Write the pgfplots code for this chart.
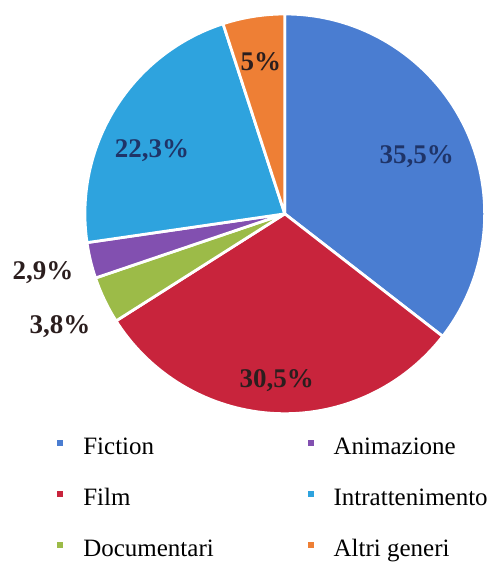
\documentclass[border=0pt]{standalone}
\usepackage{pgfplots}
\pgfplotsset{compat=1.18}
\usepackage{pgfplotstable}
\usepackage{fontspec}
\setmainfont{Liberation Serif}

\definecolor{cFic}{HTML}{4A7DD1}
\definecolor{cFilm}{HTML}{C8243C}
\definecolor{cDoc}{HTML}{9CBB48}
\definecolor{cAni}{HTML}{8250B0}
\definecolor{cInt}{HTML}{2EA3DE}
\definecolor{cAlt}{HTML}{EE7F35}
\definecolor{labNavy}{HTML}{1F3468}
\definecolor{labDark}{HTML}{2B1E1E}

% share of each genre, clockwise from 12 o'clock
\pgfplotstableread{
name value
Fiction 35.5
Film 30.5
Documentari 3.8
Animazione 2.9
Intrattenimento 22.3
Altri 5.0
}\piedata

\begin{document}
\begin{tikzpicture}
% start/end angle of each slice
\def\cum{0}
\pgfplotsforeachungrouped \i in {0,...,5}{%
  \pgfplotstablegetelem{\i}{value}\of\piedata
  \pgfmathsetmacro\s{90-3.6*\cum}%
  \pgfmathsetmacro\cum{\cum+\pgfplotsretval}%
  \pgfmathsetmacro\e{90-3.6*\cum}%
  \expandafter\xdef\csname sA\i\endcsname{\s}%
  \expandafter\xdef\csname eA\i\endcsname{\e}%
}
\newcommand\slice[2]{%
  \fill[#2, draw=white, line width=1.4pt, line join=round]
    (axis cs:285,348) -- +(\csname sA#1\endcsname:100pt)
    arc[start angle=\csname sA#1\endcsname, end angle=\csname eA#1\endcsname, radius=100pt] -- cycle;}
\begin{axis}[
  x=0.5pt, y=0.5pt,
  xmin=0, xmax=491, ymin=0, ymax=562,
  hide axis, clip=false,
  legend columns=3, transpose legend,
  legend image code/.code={\fill[#1] (0pt,1.2pt) rectangle (3pt,4.2pt);},
  legend style={draw=none, fill=none, inner sep=0pt,
    at={(0.1161,0.2242)}, anchor=north west,
    font=\fontsize{12.5}{14}\selectfont,
    row sep=13.5pt,
    nodes={inner sep=0pt, text height=9pt, text depth=3pt},
    /tikz/every odd column/.append style={column sep=10pt},
    /tikz/every even column/.append style={column sep=47pt}},
  legend cell align=left,
]
\path (axis cs:0,0) rectangle (axis cs:491,562);
\slice{0}{cFic}
\slice{1}{cFilm}
\slice{2}{cDoc}
\slice{3}{cAni}
\slice{4}{cInt}
\slice{5}{cAlt}

\begin{scope}[font=\fontsize{13.5}{15}\selectfont\bfseries]
\node[labNavy] at (axis cs:417,405) {35,5\%};
\node[labDark] at (axis cs:277,181) {30,5\%};
\node[labNavy] at (axis cs:152,411) {22,3\%};
\node[labDark] at (axis cs:261,500) {5\%};
\node[labDark] at (axis cs:43,289) {2,9\%};
\node[labDark] at (axis cs:60,235) {3,8\%};
\end{scope}

\addlegendimage{draw=none, fill=cFic}
\addlegendentry{Fiction}
\addlegendimage{draw=none, fill=cFilm}
\addlegendentry{Film}
\addlegendimage{draw=none, fill=cDoc}
\addlegendentry{Documentari}
\addlegendimage{draw=none, fill=cAni}
\addlegendentry{Animazione}
\addlegendimage{draw=none, fill=cInt}
\addlegendentry{Intrattenimento}
\addlegendimage{draw=none, fill=cAlt}
\addlegendentry{Altri generi}
\end{axis}
\end{tikzpicture}
\end{document}
